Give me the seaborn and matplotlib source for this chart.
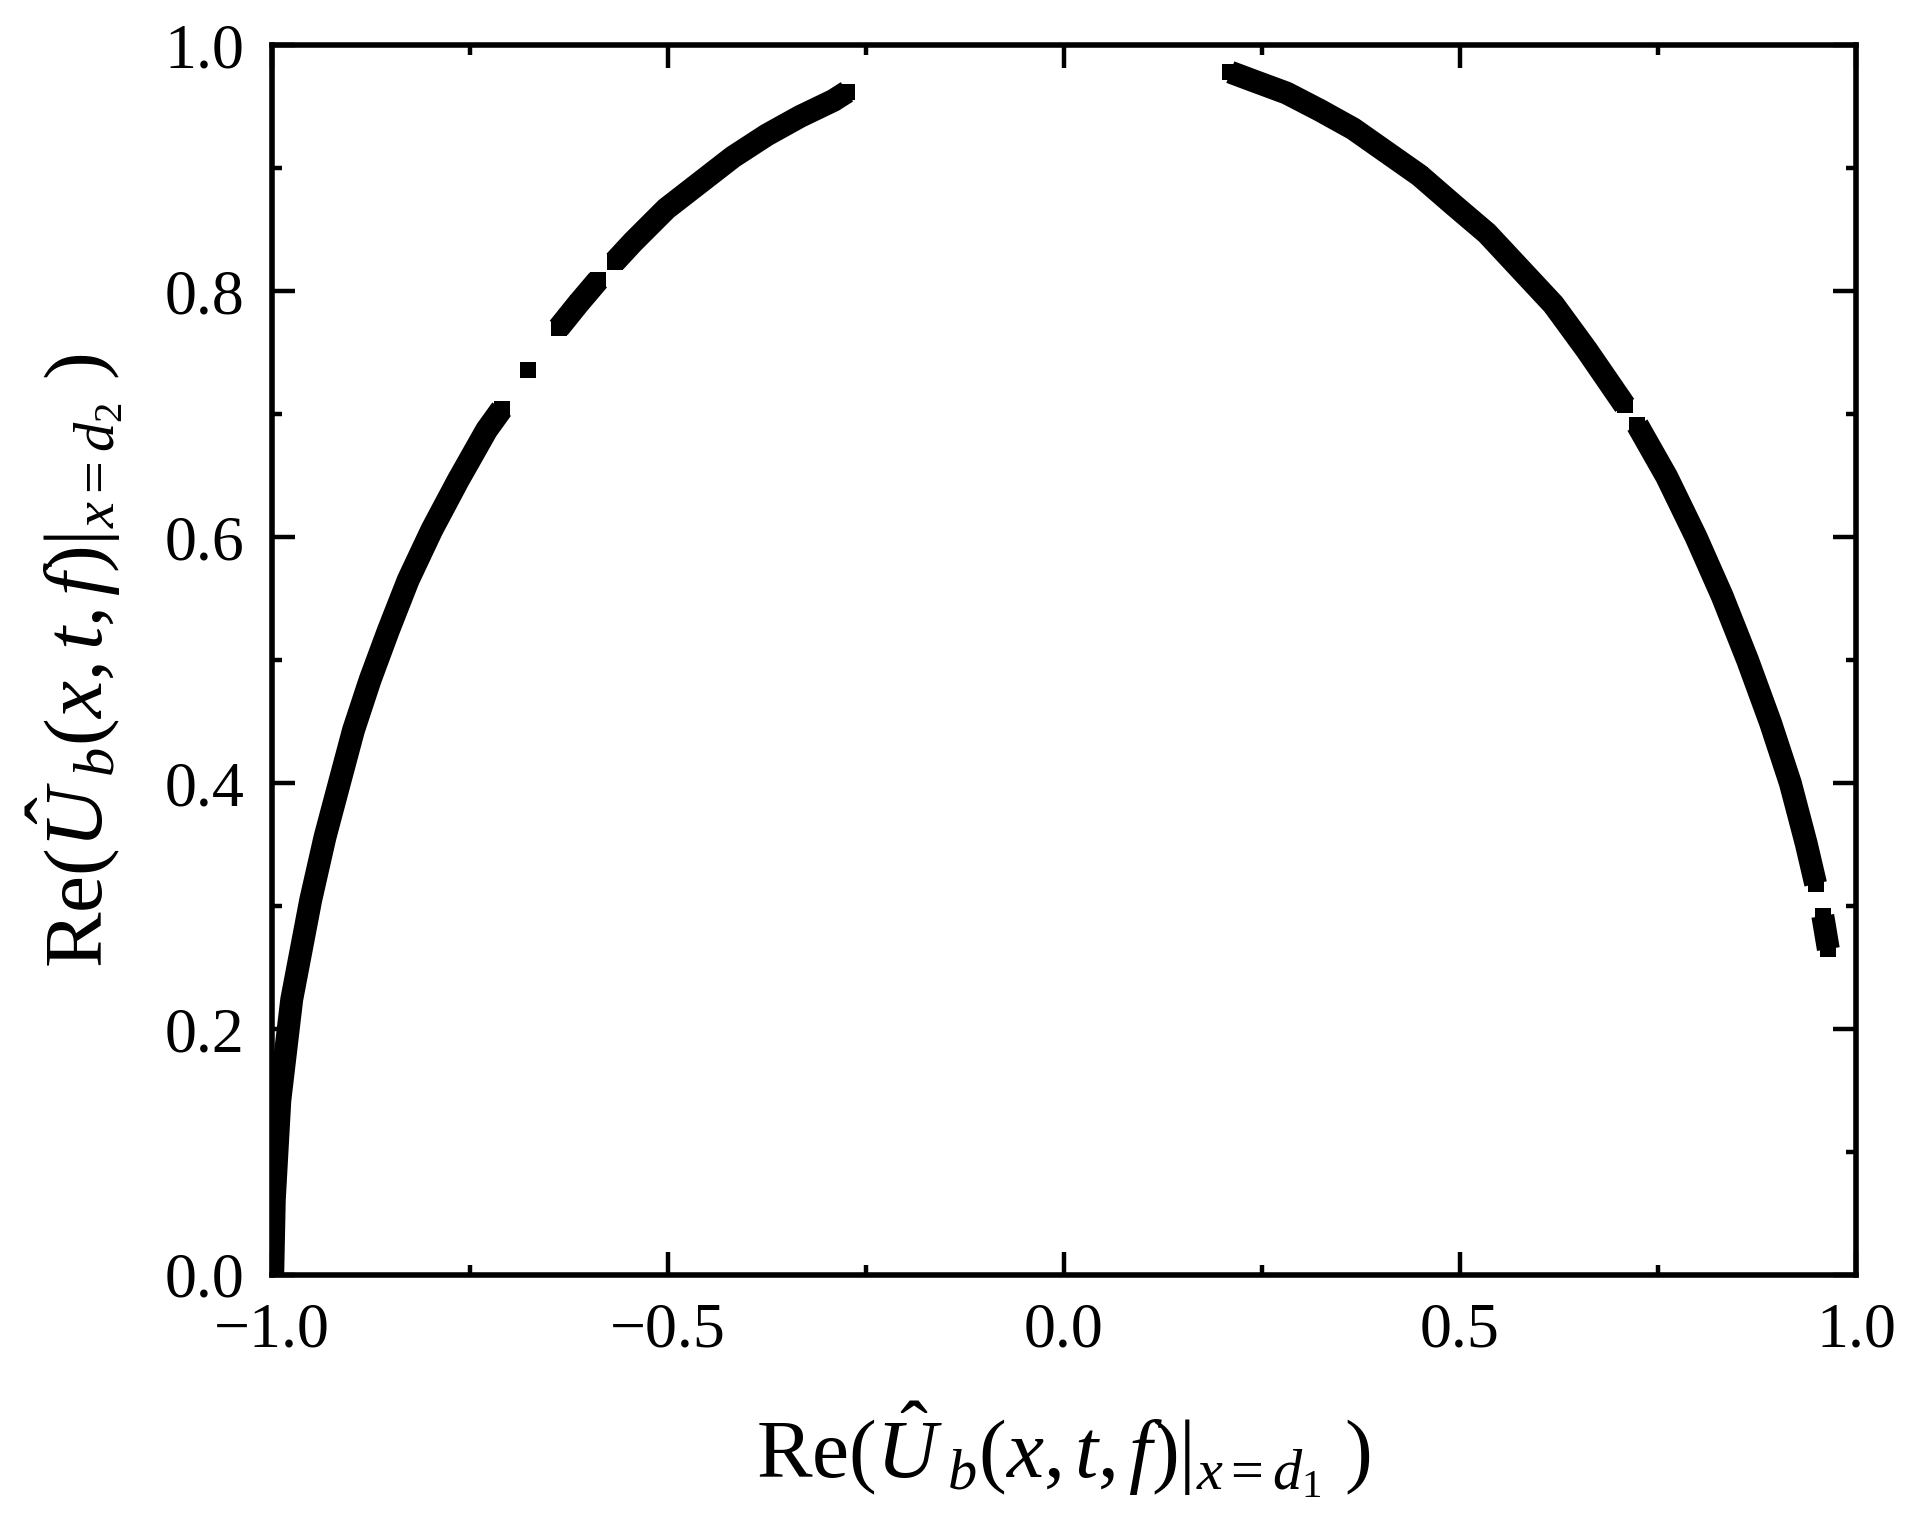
import pandas as pd
import numpy as np
import matplotlib
matplotlib.use('Agg')
import matplotlib.pyplot as plt
from matplotlib.ticker import MultipleLocator
import seaborn as sns

# points, one list per visible piece of the curve
seg_a_x = [-0.999, -0.997, -0.990, -0.975, -0.951, -0.933, -0.914, -0.897, -0.876,
           -0.853, -0.828, -0.798, -0.765, -0.729, -0.710]
seg_a_y = [0.000, 0.061, 0.142, 0.224, 0.305, 0.356, 0.402, 0.443, 0.484,
           0.524, 0.565, 0.606, 0.646, 0.687, 0.704]

seg_b_x = [-0.677]
seg_b_y = [0.736]

seg_c_x = [-0.638, -0.613, -0.588]
seg_c_y = [0.770, 0.790, 0.809]

seg_d_x = [-0.567, -0.544, -0.502, -0.460, -0.418, -0.375, -0.333, -0.291, -0.274]
seg_d_y = [0.824, 0.840, 0.867, 0.888, 0.909, 0.927, 0.942, 0.955, 0.962]

seg_e_x = [0.210, 0.239, 0.281, 0.323, 0.365, 0.407, 0.449, 0.492, 0.534,
           0.576, 0.618, 0.660, 0.708]
seg_e_y = [0.978, 0.971, 0.961, 0.947, 0.932, 0.913, 0.894, 0.870, 0.847,
           0.818, 0.789, 0.752, 0.707]

seg_f_x = [0.724, 0.761, 0.798, 0.831, 0.863, 0.892, 0.917, 0.937, 0.949]
seg_f_y = [0.691, 0.649, 0.600, 0.552, 0.500, 0.449, 0.400, 0.351, 0.318]

seg_g_x = [0.958, 0.965]
seg_g_y = [0.292, 0.265]

x_ticks = [-1.0, -0.5, 0.0, 0.5, 1.0]
x_tick_labels = ['\u22121.0', '\u22120.5', '0.0', '0.5', '1.0']
y_ticks = [0.0, 0.2, 0.4, 0.6, 0.8, 1.0]
y_tick_labels = ['0.0', '0.2', '0.4', '0.6', '0.8', '1.0']

segs = [(seg_a_x, seg_a_y), (seg_b_x, seg_b_y), (seg_c_x, seg_c_y), (seg_d_x, seg_d_y),
        (seg_e_x, seg_e_y), (seg_f_x, seg_f_y), (seg_g_x, seg_g_y)]
frames = []
for i, (xs, ys) in enumerate(segs):
    frames.append(pd.DataFrame({'x': xs, 'y': ys, 'seg': i}))
df = pd.concat(frames, ignore_index=True)

sns.set_theme(style='ticks')
plt.rcParams['font.family'] = ['Liberation Serif', 'DejaVu Serif']
plt.rcParams['mathtext.fontset'] = 'custom'
plt.rcParams['mathtext.rm'] = 'Liberation Serif'
plt.rcParams['mathtext.it'] = 'Liberation Serif:italic'
plt.rcParams['mathtext.bf'] = 'Liberation Serif:bold'
plt.rcParams['axes.unicode_minus'] = True

fig, ax = plt.subplots(figsize=(19.19, 15.33), dpi=100)
fig.subplots_adjust(left=0.1417, right=0.9672, top=0.9706, bottom=0.1683)

sns.lineplot(data=df, x='x', y='y', units='seg', estimator=None, sort=False,
             color='black', marker='s', markersize=12.2, markeredgewidth=0,
             legend=False, ax=ax)
for ln in ax.lines:
    ln.set_linewidth(16.5)
    ln.set_solid_capstyle('butt')
    ln.set_solid_joinstyle('round')

ax.set_xlim(-1.0, 1.0)
ax.set_ylim(0.0, 1.0)
ax.set_xticks(x_ticks)
ax.set_xticklabels(x_tick_labels)
ax.set_yticks(y_ticks)
ax.set_yticklabels(y_tick_labels)
ax.xaxis.set_minor_locator(MultipleLocator(0.25))
ax.yaxis.set_minor_locator(MultipleLocator(0.1))

for s in ax.spines.values():
    s.set_visible(True)
    s.set_linewidth(4)
    s.set_color('black')

ax.tick_params(which='both', direction='in', top=True, right=True, color='black',
               width=3.2, labelsize=46, labelcolor='black')
ax.tick_params(which='major', length=16.5)
ax.tick_params(which='minor', length=7.2)
ax.tick_params(axis='x', which='major', pad=20)
ax.tick_params(axis='y', which='major', pad=20)

ax.set_xlabel(r'$\mathrm{Re}(\hat{U}\,_{b}(x{,}\,t{,}\,f)|_{x=d_1}\ )$', fontsize=60,
              labelpad=28, color='black')
ax.set_ylabel(r'$\mathrm{Re}(\hat{U}\,_{b}(x{,}\,t{,}\,f)|_{x=d_2}\ )$', fontsize=60,
              labelpad=28, color='black')

fig.savefig('out.png', dpi=100, facecolor='white')
